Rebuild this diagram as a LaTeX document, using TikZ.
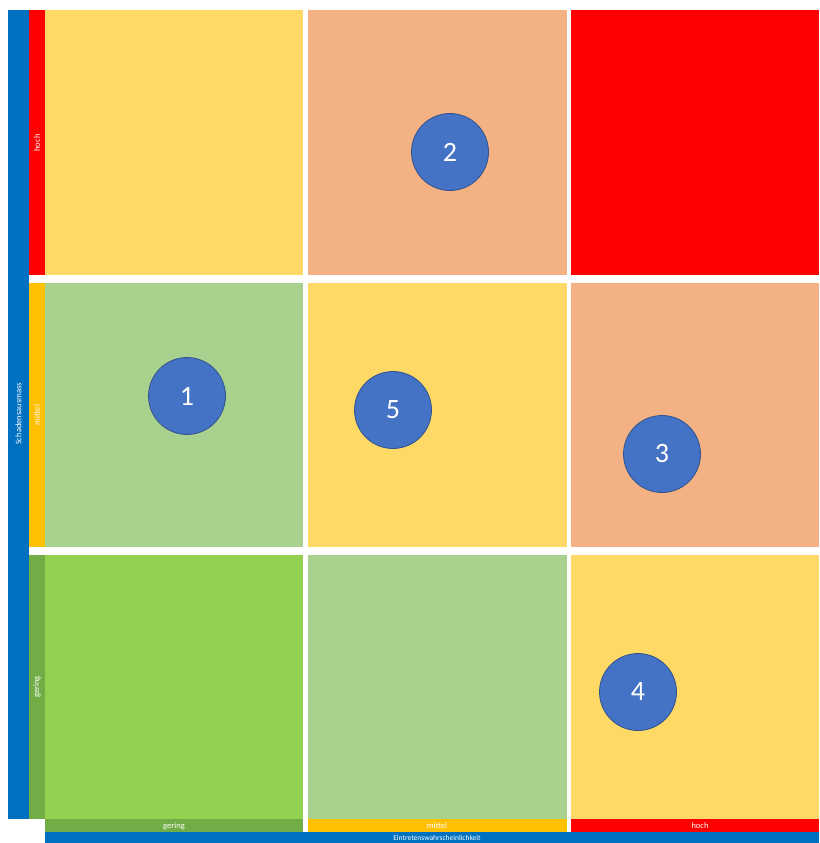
\documentclass[tikz,border=0pt]{standalone}
\usepackage{fontspec}
\setmainfont{Carlito}
\definecolor{achsblau}{HTML}{0070C0}
\definecolor{rot}{HTML}{FF0000}
\definecolor{orange}{HTML}{FFC000}
\definecolor{gruen}{HTML}{70AD47}
\definecolor{gelb}{HTML}{FFD966}
\definecolor{lachs}{HTML}{F4B183}
\definecolor{hellgruen}{HTML}{A9D18E}
\definecolor{sattgruen}{HTML}{92D050}
\definecolor{kreisblau}{HTML}{4472C4}
\definecolor{kreisrand}{HTML}{2F528F}
\begin{document}
\begin{tikzpicture}[x=1pt,y=-1pt,
  band/.style={text=white, font=\fontsize{8.5}{9}\selectfont, inner sep=0pt},
  achse/.style={text=white, font=\fontsize{8.5}{9}\selectfont, inner sep=0pt},
  risiko/.style={circle, fill=kreisblau, draw=kreisrand, line width=0.8pt,
    minimum size=77pt, text=white, font=\fontsize{28}{30}\selectfont}]
  \useasboundingbox (0,0) rectangle (819,843);

  % Axis bars
  \fill[achsblau] (8,10) rectangle (29,819);
  \fill[achsblau] (45,832) rectangle (819,860);
  \node[achse, rotate=90] (yachse) at (18.5,414) {Schadensausmass};
  \node[achse, font=\fontsize{7.5}{8}\selectfont] (xachse) at (437,837.5) {Eintretenswahrscheinlichkeit};

  % Level bands, left side
  \fill[rot] (29,10) rectangle (45,275);
  \fill[orange] (29,283) rectangle (45,547);
  \fill[gruen] (29,555) rectangle (45,819);
  \node[band, rotate=90] (yhoch) at (37,143) {hoch};
  \node[band, rotate=90] (ymittel) at (37,415) {mittel};
  \node[band, rotate=90] (ygering) at (37,687) {gering};

  % Level bands, bottom
  \fill[gruen] (45,819) rectangle (303,832);
  \fill[orange] (308,819) rectangle (567,832);
  \fill[rot] (571,819) rectangle (819,832);
  \node[band] (xgering) at (174,826) {gering};
  \node[band] (xmittel) at (437,826) {mittel};
  \node[band] (xhoch) at (700,826) {hoch};

  % Matrix cells
  \fill[gelb] (45,10) rectangle (303,275);
  \fill[lachs] (308,10) rectangle (567,275);
  \fill[rot] (571,10) rectangle (819,275);
  \fill[hellgruen] (45,283) rectangle (303,547);
  \fill[gelb] (308,283) rectangle (567,547);
  \fill[lachs] (571,283) rectangle (819,547);
  \fill[sattgruen] (45,555) rectangle (303,819);
  \fill[hellgruen] (308,555) rectangle (567,819);
  \fill[gelb] (571,555) rectangle (819,819);

  % Risks
  \node[risiko] (r1) at (187,396) {1};
  \node[risiko] (r2) at (450,152) {2};
  \node[risiko] (r3) at (662,454) {3};
  \node[risiko] (r4) at (638,692) {4};
  \node[risiko] (r5) at (393,410) {5};
\end{tikzpicture}
\end{document}
